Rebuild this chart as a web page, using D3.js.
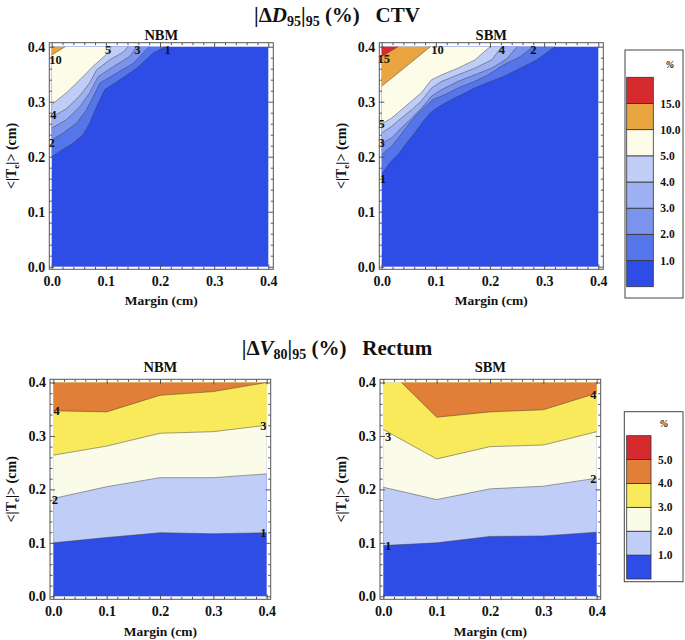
<!DOCTYPE html>
<html><head><meta charset="utf-8">
<script src="https://cdn.jsdelivr.net/npm/d3@7"></script>
<style>
body{margin:0;background:#fff}
svg{display:block}
text{font-family:"Liberation Serif","Times New Roman",serif;font-weight:bold;fill:#111}
</style>
</head><body>
<svg id="c" width="685" height="640"></svg>
<script>
// ---------- data ----------
const axisTicks = [0, 0.1, 0.2, 0.3, 0.4];
const ctvLevels = [1, 2, 3, 4, 5, 10, 15];
const rectumLevels = [1, 2, 3, 4, 5];
const ctvColors = ["#2e4ce6", "#5575ea", "#7a94ee", "#9db1f3", "#c0cdf7", "#fdfce8", "#e9a53f", "#d72a2f"];
const rectumColors = ["#2e4ce6", "#c0cdf7", "#fbfbe9", "#f8ea5b", "#e17e37", "#d72a2f"];

// CTV, NBM: contour lines [margin, <|Te|>]
const ctvNbm1 = [[0,0.200],[0.015,0.210],[0.040,0.225],[0.058,0.240],[0.070,0.261],[0.083,0.291],[0.098,0.322],[0.126,0.340],[0.157,0.361],[0.188,0.389],[0.210,0.400]];
const ctvNbm2 = [[0,0.230],[0.021,0.243],[0.046,0.261],[0.064,0.285],[0.077,0.310],[0.089,0.334],[0.120,0.352],[0.151,0.370],[0.180,0.400]];
const ctvNbm3 = [[0,0.252],[0.027,0.267],[0.052,0.291],[0.070,0.316],[0.086,0.346],[0.114,0.364],[0.144,0.382],[0.157,0.400]];
const ctvNbm4 = [[0,0.272],[0.027,0.287],[0.052,0.311],[0.070,0.334],[0.083,0.358],[0.107,0.376],[0.132,0.390],[0.141,0.400]];
const ctvNbm5 = [[0,0.295],[0.027,0.316],[0.052,0.340],[0.076,0.364],[0.101,0.386],[0.110,0.400]];
const ctvNbm10 = [[0,0.385],[0.025,0.400]];
const ctvNbmLabels = [["10",0.007,0.376],["5",0.104,0.395],["3",0.158,0.395],["1",0.214,0.395],["4",0.003,0.276],["2",0.0,0.226]];

// CTV, SBM
const ctvSbm1 = [[0,0.168],[0.015,0.189],[0.033,0.207],[0.046,0.225],[0.061,0.243],[0.076,0.264],[0.089,0.279],[0.101,0.288],[0.123,0.301],[0.148,0.313],[0.172,0.325],[0.194,0.334],[0.225,0.346],[0.256,0.361],[0.286,0.376],[0.320,0.400]];
const ctvSbm2 = [[0,0.204],[0.018,0.219],[0.033,0.237],[0.049,0.258],[0.064,0.276],[0.080,0.291],[0.095,0.304],[0.117,0.313],[0.141,0.325],[0.172,0.337],[0.197,0.349],[0.225,0.367],[0.256,0.382],[0.280,0.400]];
const ctvSbm3 = [[0,0.224],[0.018,0.234],[0.036,0.252],[0.055,0.270],[0.073,0.288],[0.092,0.310],[0.111,0.322],[0.141,0.337],[0.172,0.349],[0.203,0.361],[0.230,0.377],[0.250,0.400]];
const ctvSbm4 = [[0,0.243],[0.018,0.255],[0.036,0.270],[0.055,0.285],[0.073,0.301],[0.092,0.325],[0.111,0.337],[0.141,0.349],[0.172,0.361],[0.203,0.376],[0.222,0.400]];
const ctvSbm5 = [[0,0.260],[0.018,0.270],[0.036,0.285],[0.055,0.301],[0.073,0.316],[0.092,0.340],[0.111,0.349],[0.141,0.361],[0.172,0.376],[0.200,0.400]];
const ctvSbm10 = [[0,0.328],[0.090,0.400]];
const ctvSbm15 = [[0,0.382],[0.030,0.400]];
const ctvSbmLabels = [["15",0.004,0.378],["10",0.103,0.395],["4",0.222,0.395],["2",0.280,0.395],["5",0.0,0.261],["3",0.0,0.226],["1",0.002,0.161]];

// Rectum, NBM
const recNbm1 = [[0,0.100],[0.1,0.110],[0.2,0.119],[0.3,0.117],[0.4,0.119]];
const recNbm2 = [[0,0.183],[0.1,0.205],[0.2,0.222],[0.3,0.222],[0.4,0.229]];
const recNbm3 = [[0,0.264],[0.1,0.281],[0.2,0.305],[0.3,0.308],[0.4,0.320]];
const recNbm4 = [[0,0.347],[0.1,0.345],[0.2,0.376],[0.3,0.383],[0.4,0.400]];
const recNbmLabels = [["4",0.006,0.347],["3",0.394,0.319],["2",0.003,0.181],["1",0.394,0.119]];

// Rectum, SBM
const recSbm1 = [[0,0.095],[0.1,0.100],[0.2,0.112],[0.3,0.113],[0.4,0.120]];
const recSbm2 = [[0,0.204],[0.1,0.181],[0.2,0.201],[0.3,0.206],[0.4,0.221]];
const recSbm3 = [[0,0.312],[0.1,0.257],[0.2,0.280],[0.3,0.283],[0.4,0.308]];
const recSbm4 = [[0.034,0.400],[0.1,0.335],[0.2,0.345],[0.3,0.349],[0.4,0.380]];
const recSbmLabels = [["3",0.009,0.299],["1",0.009,0.095],["2",0.394,0.220],["4",0.394,0.378]];

const panelNames = ["NBM", "SBM"];

// ---------- layout ----------
const svg = d3.select("#c");
const rows = [
  {frame:{l:49.3,r:273.3,t:42.7,b:269.3}, xr:[51.7,268.3], yr:[266.7,46.7], titleY:39.5, xlabY:305},
  {frame:{l:50,r:270.7,t:379.3,b:599.3}, xr:[53.3,266.7], yr:[596.3,382.5], titleY:372.3, xlabY:635.5}
];
const colOffset = [0, 330];

const panels = [
  {row:0,col:0,name:panelNames[0],levels:ctvLevels,colors:ctvColors,lines:[[1,ctvNbm1],[2,ctvNbm2],[3,ctvNbm3],[4,ctvNbm4],[5,ctvNbm5],[10,ctvNbm10]],labels:ctvNbmLabels},
  {row:0,col:1,name:panelNames[1],levels:ctvLevels,colors:ctvColors,lines:[[1,ctvSbm1],[2,ctvSbm2],[3,ctvSbm3],[4,ctvSbm4],[5,ctvSbm5],[10,ctvSbm10],[15,ctvSbm15]],labels:ctvSbmLabels},
  {row:1,col:0,name:panelNames[0],levels:rectumLevels,colors:rectumColors,lines:[[1,recNbm1],[2,recNbm2],[3,recNbm3],[4,recNbm4]],labels:recNbmLabels},
  {row:1,col:1,name:panelNames[1],levels:rectumLevels,colors:rectumColors,lines:[[1,recSbm1],[2,recSbm2],[3,recSbm3],[4,recSbm4]],labels:recSbmLabels}
];

const fmt = d3.format(".1f");
const minorTicks = d3.range(0, 0.4001, 0.02).filter(v => Math.abs(v*10 - Math.round(v*10)) > 1e-6);

function closePoly(pts){
  const out = pts.slice();
  const first = pts[0], last = pts[pts.length-1];
  if (Math.abs(last[0]-0.4) < 1e-9 && last[1] < 0.4) out.push([0.4,0.4]);
  if (Math.abs(first[0]) < 1e-9 && first[1] < 0.4) out.push([0,0.4]);
  return out;
}

panels.forEach(p => {
  const L = rows[p.row], dx = colOffset[p.col];
  const f = {l:L.frame.l+dx, r:L.frame.r+dx, t:L.frame.t, b:L.frame.b};
  const x = d3.scaleLinear().domain([0,0.4]).range([L.xr[0]+dx, L.xr[1]+dx]);
  const y = d3.scaleLinear().domain([0,0.4]).range(L.yr);
  const g = svg.append("g");

  // base band
  g.append("rect").attr("x", x(0)).attr("y", y(0.4))
    .attr("width", x(0.4)-x(0)).attr("height", y(0)-y(0.4))
    .attr("fill", p.colors[0]);

  const line = d3.line().x(d => x(d[0])).y(d => y(d[1]));
  // filled regions above each contour
  p.lines.forEach(([lev, pts]) => {
    const ci = p.levels.indexOf(lev) + 1;
    g.append("path").attr("d", line(closePoly(pts)) + "Z").attr("fill", p.colors[ci]);
  });
  // contour lines
  p.lines.forEach(([lev, pts]) => {
    g.append("path").attr("d", line(pts)).attr("fill", "none")
      .attr("stroke", "#3a3a3a").attr("stroke-opacity", 0.6).attr("stroke-width", 0.8);
  });
  // contour labels
  g.selectAll("text.cl").data(p.labels).join("text").attr("class","cl")
    .attr("x", d => x(d[1])).attr("y", d => y(d[2])).attr("dy","0.35em")
    .attr("text-anchor","middle").attr("font-size", 12.5).text(d => d[0]);

  // axes
  const styleAxis = sel => { sel.select(".domain").remove(); sel.selectAll("line").attr("stroke","#555"); sel.attr("font-size",null).attr("font-family",null); sel.selectAll("text").attr("font-size",14).attr("fill","#111"); };
  g.append("g").attr("transform",`translate(0,${f.b})`)
    .call(d3.axisBottom(x).tickValues(axisTicks).tickSize(-5).tickPadding(7).tickFormat(fmt)).call(styleAxis);
  g.append("g").attr("transform",`translate(0,${f.b})`)
    .call(d3.axisBottom(x).tickValues(minorTicks).tickSize(-2.5).tickFormat("")).call(styleAxis);
  g.append("g").attr("transform",`translate(0,${f.t})`)
    .call(d3.axisTop(x).tickValues(axisTicks).tickSize(-5).tickFormat("")).call(styleAxis);
  g.append("g").attr("transform",`translate(0,${f.t})`)
    .call(d3.axisTop(x).tickValues(minorTicks).tickSize(-2.5).tickFormat("")).call(styleAxis);
  g.append("g").attr("transform",`translate(${f.l},0)`)
    .call(d3.axisLeft(y).tickValues(axisTicks).tickSize(-5).tickPadding(4).tickFormat(fmt)).call(styleAxis);
  g.append("g").attr("transform",`translate(${f.l},0)`)
    .call(d3.axisLeft(y).tickValues(minorTicks).tickSize(-2.5).tickFormat("")).call(styleAxis);
  g.append("g").attr("transform",`translate(${f.r},0)`)
    .call(d3.axisRight(y).tickValues(axisTicks).tickSize(-5).tickFormat("")).call(styleAxis);
  g.append("g").attr("transform",`translate(${f.r},0)`)
    .call(d3.axisRight(y).tickValues(minorTicks).tickSize(-2.5).tickFormat("")).call(styleAxis);

  g.append("rect").attr("x",f.l).attr("y",f.t).attr("width",f.r-f.l).attr("height",f.b-f.t)
    .attr("fill","none").attr("stroke","#555").attr("stroke-width",1);

  // panel title
  g.append("text").attr("x",(f.l+f.r)/2).attr("y",L.titleY).attr("text-anchor","middle")
    .attr("font-size",14.5).text(p.name);
  // x label
  g.append("text").attr("x",(f.l+f.r)/2).attr("y",L.xlabY).attr("text-anchor","middle")
    .attr("font-size",13.5).text("Margin (cm)");
  // y label
  const yl = g.append("text").attr("transform",`translate(${16+dx},${(f.t+f.b)/2}) rotate(-90)`)
    .attr("text-anchor","middle").attr("font-size",14);
  yl.append("tspan").text("<|T");
  yl.append("tspan").attr("font-size",9).attr("dy",3).text("e");
  yl.append("tspan").attr("dy",-3).text("|> (cm)");
});

// ---------- titles ----------
function title(yPos, letter, sub, rest){
  const t = svg.append("text").attr("x",337).attr("y",yPos).attr("text-anchor","middle")
    .attr("font-size",21).attr("xml:space","preserve");
  t.append("tspan").text("|\u0394");
  t.append("tspan").attr("font-style","italic").text(letter);
  t.append("tspan").attr("font-size",14).attr("dy",4).text(sub);
  t.append("tspan").attr("dy",-4).text("|");
  t.append("tspan").attr("font-size",14).attr("dy",4).text("95");
  t.append("tspan").attr("dy",-4).text(" (%)   " + rest);
}
title(22, "D", "95", "CTV");
title(355, "V", "80", "Rectum");

// ---------- legends ----------
function legend(box, sw, pct, levels, colors){
  const g = svg.append("g");
  g.append("rect").attr("x",box.x).attr("y",box.y).attr("width",box.w).attr("height",box.h)
    .attr("fill","#fff").attr("stroke","#444").attr("stroke-width",1);
  const ys = d3.scaleLinear().domain([0, colors.length]).range([sw.bottom, sw.top]);
  g.selectAll("rect.sw").data(colors).join("rect").attr("class","sw")
    .attr("x",sw.x).attr("width",sw.w)
    .attr("y",(d,i)=>ys(i+1)).attr("height",(d,i)=>ys(i)-ys(i+1))
    .attr("fill",d=>d).attr("stroke","#333").attr("stroke-width",0.8);
  g.selectAll("text.lv").data(levels).join("text").attr("class","lv")
    .attr("x",sw.x+sw.w+7).attr("y",(d,i)=>ys(i+1)).attr("dy","0.35em")
    .attr("font-size",11.5).text(d=>fmt(d));
  g.append("text").attr("x",pct.x).attr("y",pct.y).attr("text-anchor","middle")
    .attr("font-size",10).attr("font-weight","normal").attr("font-style","italic").text("%");
}
legend({x:625,y:50,w:58,h:248},{x:626.7,w:26.6,top:77.3,bottom:286.7},{x:670,y:68},ctvLevels,ctvColors);
legend({x:624.3,y:411.7,w:58.7,h:170},{x:626.7,w:24.3,top:435.7,bottom:579},{x:664,y:427},rectumLevels,rectumColors);
</script>
</body></html>
